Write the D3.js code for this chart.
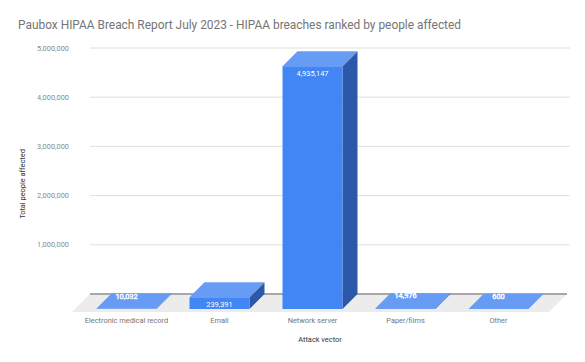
<!DOCTYPE html>
<html>
<head>
  <meta charset="utf-8">
  <script src="https://d3js.org/d3.v7.min.js"></script>
  <style>
    body { margin: 0; background: #fff; }
    text { font-family: Roboto, "Noto Sans", sans-serif; }
  </style>
</head>
<body>
<div id="chart"></div>
<script>

    // data
    const categories = ['Electronic medical record', 'Email', 'Network server', 'Paper/films', 'Other']
    const affected = [10032, 239391, 4935147, 14976, 600]
    const yTicks = [1000000, 2000000, 3000000, 4000000, 5000000]

    const width = 585,
        height = 362

    const depth = 15,        // 3d offset of the bars
        floorDepth = 18

    const back = { left: 90, right: 567, bottom: 294, top: 48 }

    var yScale = d3.scaleLinear()
        .domain([0, 5000000])
        .range([back.bottom, back.top])

    // x positions are for the front faces
    var xScale = d3.scaleBand()
        .domain(categories)
        .range([80, 545])
        .paddingInner(0.355)
        .paddingOuter(0.1775)

    var fmt = d3.format(',')

    var svg = d3.select('#chart').append('svg')
        .attr('width', width)
        .attr('height', height)

    svg.append('text')
        .attr('x', 18)
        .attr('y', 29)
        .attr('fill', '#757575')
        .attr('font-size', 11.9)
        .text('Paubox HIPAA Breach Report July 2023 - HIPAA breaches ranked by people affected')

    // gridlines + tick labels on the back wall
    var grid = svg.append('g')
    grid.selectAll('line')
        .data(yTicks).enter()
        .append('line')
        .attr('x1', back.left)
        .attr('x2', back.right + 3)
        .attr('y1', d => yScale(d))
        .attr('y2', d => yScale(d))
        .attr('stroke', '#e0e0e0')
        .attr('stroke-width', 1)

    grid.selectAll('text')
        .data(yTicks).enter()
        .append('text')
        .attr('x', 69)
        .attr('y', d => yScale(d) + 2.5)
        .attr('text-anchor', 'end')
        .attr('fill', '#8a8a8a')
        .attr('font-size', 7.4)
        .text(d => fmt(d))

    // floor
    var fy0 = back.bottom, fy1 = back.bottom + floorDepth
    svg.append('path')
        .attr('d', `M${back.left},${fy0} L${back.right},${fy0} L${back.right - floorDepth},${fy1} L${back.left - floorDepth},${fy1} Z`)
        .attr('fill', '#ececec')

    svg.append('line')
        .attr('x1', back.left)
        .attr('x2', back.right)
        .attr('y1', fy0)
        .attr('y2', fy0)
        .attr('stroke', '#a8a8a8')
        .attr('stroke-width', 2)

    // bars
    var base = back.bottom + depth
    var bars = svg.append('g').selectAll('g')
        .data(categories.map((c, i) => ({ cat: c, v: affected[i] }))).enter()
        .append('g')

    bars.each(function(d) {
        var g = d3.select(this)
        var x0 = xScale(d.cat), x1 = x0 + xScale.bandwidth()
        var yt = yScale(d.v) + depth
        g.append('path')
            .attr('d', `M${x1},${yt} L${x1 + depth},${yt - depth} L${x1 + depth},${base - depth} L${x1},${base} Z`)
            .attr('fill', '#2b58a8')
        g.append('rect')
            .attr('x', x0)
            .attr('y', yt)
            .attr('width', x1 - x0)
            .attr('height', base - yt)
            .attr('fill', '#4285f4')
        g.append('path')
            .attr('d', `M${x0},${yt} L${x0 + depth},${yt - depth} L${x1 + depth},${yt - depth} L${x1},${yt} Z`)
            .attr('fill', '#679cf5')

        var small = base - yt < 6
        g.append('text')
            .attr('x', x0 + xScale.bandwidth() / 2)
            .attr('y', small ? yt - 10 : yt + 9.5)
            .attr('text-anchor', 'middle')
            .attr('fill', '#fff')
            .attr('font-size', 7.4)
            .attr('stroke', small ? '#fff' : 'none')
            .attr('stroke-width', 0.4)
            .text(fmt(d.v))
    })

    // category labels
    svg.append('g').selectAll('text')
        .data(categories).enter()
        .append('text')
        .attr('x', d => xScale(d) + xScale.bandwidth() / 2)
        .attr('y', 323)
        .attr('text-anchor', 'middle')
        .attr('fill', '#757575')
        .attr('font-size', 7.4)
        .text(d => d)

    svg.append('text')
        .attr('x', 320)
        .attr('y', 342)
        .attr('text-anchor', 'middle')
        .attr('fill', '#333')
        .attr('font-size', 7.4)
        .text('Attack vector')

    svg.append('text')
        .attr('transform', 'translate(25,184) rotate(-90)')
        .attr('text-anchor', 'middle')
        .attr('fill', '#333')
        .attr('font-size', 7.4)
        .text('Total people affected')

</script>
</body>
</html>
